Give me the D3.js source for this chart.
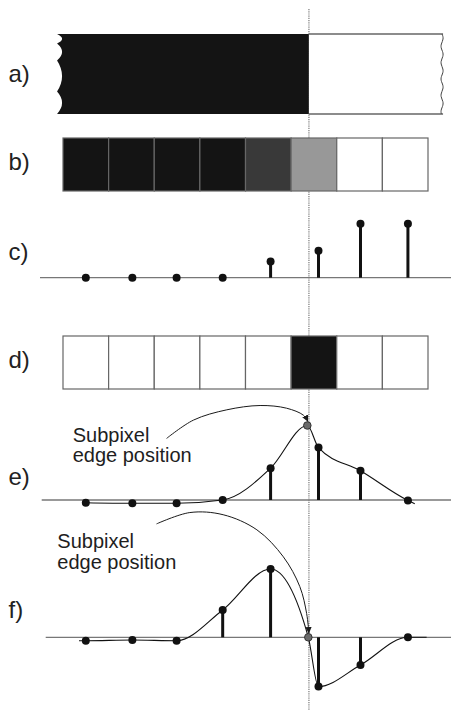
<!DOCTYPE html>
<html>
<head>
<meta charset="utf-8">
<script src="https://cdn.jsdelivr.net/npm/d3@7"></script>
<style>
    body { margin: 0; background: #fff; }
    svg { display: block; font-family: "Liberation Sans", Arial, Helvetica, sans-serif; }
</style>
</head>
<body>
<div id="chart"></div>
<script>
// scan line of 8 pixels, positions in pixel units
var pixelCount = 8;
var edgePos = 5.39;
var samplePos = [0.5, 1.52, 2.49, 3.5, 4.55, 5.6, 6.52, 7.56];

// a) continuous edge: [from, to, intensity]
var stepSegments = [[-0.13, 5.39, 0], [5.39, 8.33, 1]];
// b) + c) sampled intensities
var sampledValues = [0, 0, 0, 0, 0.3, 0.5, 1, 1];
// d) pixel classified as edge
var edgePixels = [0, 0, 0, 0, 0, 1, 0, 0];
// e) first derivative
var gradientValues = [-0.05, -0.06, -0.06, 0, 0.59, 0.97, 0.54, -0.01];
var gradientPeak = [5.355, 1.38];
var gradientTail = [[7.71, -0.07]];
// f) second derivative
var secondDerivValues = [-0.063, -0.05, -0.063, 0.506, 1.265, -0.913, -0.513, 0];
var zeroCrossing = [5.377, 0];
var secondDerivTails = [[0.35, -0.063], [7.97, 0]];

var panelLabels = ["a)", "b)", "c)", "d)", "e)", "f)"];
var noteLines = ["Subpixel", "edge position"];
// annotation arrows, in the same units as the plot they point into
var gradientArrow = [[2.27, 1.14], [2.86, 1.48], [3.59, 1.67], [4.32, 1.75], [4.9, 1.7], [5.27, 1.57], [5.37, 1.45]];
var zeroArrow = [[2.05, 2.1], [2.78, 2.31], [3.51, 2.27], [4.25, 1.99], [4.83, 1.49], [5.19, 0.94], [5.34, 0.44], [5.39, 0.07]];

var config = {
    width: 451,
    height: 710,
    xRange: [63, 428],
    unit: 54,
    labelX: 8.5,
    labelY: [82, 170, 260, 368, 485, 618],
    step: {top: 34, bottom: 114},
    cellsB: {top: 138, bottom: 191},
    stemsC: {base: 277.7, axis: [40, 451]},
    cellsD: {top: 336, bottom: 389},
    plotE: {base: 500, axis: [41.7, 451], note: [72.7, 441.7]},
    plotF: {base: 637.3, axis: [45.7, 451], note: [57.3, 548.3]}
};

var grayScale = d3.scaleLinear()
    .domain([0, 0.3, 0.5, 1])
    .range(["#141414", "#393939", "#989898", "#ffffff"]);

class EdgeFigure {

    constructor(container, config) {
        this.config = config;
        this.svg = d3.select(container).append("svg")
            .attr("width", config.width)
            .attr("height", config.height);
        this.x = d3.scaleLinear().domain([0, pixelCount]).range(config.xRange);
        this.initMarker();
    }

    yScale(panel) {
        return d3.scaleLinear().domain([0, 1]).range([panel.base, panel.base - this.config.unit]);
    }

    initMarker() {
        this.svg.append("defs").append("marker")
            .attr("id", "arrow")
            .attr("viewBox", "0 -5 10 10")
            .attr("refX", 10)
            .attr("refY", 0)
            .attr("markerWidth", 6.5)
            .attr("markerHeight", 6.5)
            .attr("markerUnits", "userSpaceOnUse")
            .attr("orient", "auto")
            .append("path")
            .attr("d", "M0,-5L10,0L0,5Z")
            .attr("fill", "#1a1a1a");
    }

    drawEdgeLine() {
        var ex = this.x(edgePos);
        this.svg.append("line")
            .attr("x1", ex).attr("x2", ex)
            .attr("y1", 9).attr("y2", this.config.height)
            .attr("stroke", "#8c8c8c")
            .attr("stroke-width", 1.4)
            .attr("stroke-dasharray", "1.2,1");
    }

    drawStep(panel) {
        var x = this.x, top = panel.top, bottom = panel.bottom, h = bottom - top;
        var g = this.svg.append("g").attr("class", "step");

        stepSegments.forEach(seg => {
            var x0 = x(seg[0]), x1 = x(seg[1]);
            if (seg[2] === 0) {
                // torn left side
                var cusps = [0, 0.12, 0.33, 0.72, 1];
                var p = d3.path();
                p.moveTo(x1, top);
                p.lineTo(x0, top);
                cusps.slice(1).forEach((c, i) => {
                    var y0 = top + cusps[i] * h, y1 = top + c * h;
                    p.quadraticCurveTo(x0 + 10, (y0 + y1) / 2, x0, y1);
                });
                p.lineTo(x1, bottom);
                p.closePath();
                g.append("path").attr("d", p.toString()).attr("fill", grayScale(seg[2]));
            } else {
                g.append("rect")
                    .attr("x", x0).attr("y", top)
                    .attr("width", x1 - x0).attr("height", h)
                    .attr("fill", grayScale(seg[2]));
                g.selectAll("line.edge-border").data([top, bottom]).join("line")
                    .attr("class", "edge-border")
                    .attr("x1", x0).attr("x2", x1)
                    .attr("y1", d => d).attr("y2", d => d)
                    .attr("stroke", "#666").attr("stroke-width", 1.3);
                var wave = d3.range(top, bottom + 0.1, 2.5).map(y => [x1 - 1 + 1.2 * Math.sin((y - top) / 2.6), y]);
                g.append("path")
                    .attr("d", d3.line().curve(d3.curveBasis)(wave))
                    .attr("fill", "none")
                    .attr("stroke", "#444")
                    .attr("stroke-width", 1);
            }
        });
    }

    drawCells(values, panel, color) {
        var x = this.x;
        this.svg.append("g").attr("class", "cells")
            .selectAll("rect").data(values).join("rect")
            .attr("x", (d, i) => x(i))
            .attr("y", panel.top)
            .attr("width", x(1) - x(0))
            .attr("height", panel.bottom - panel.top)
            .attr("fill", color)
            .attr("stroke", "#666")
            .attr("stroke-width", 1.2);
    }

    drawAxis(panel) {
        this.svg.append("line")
            .attr("x1", panel.axis[0]).attr("x2", panel.axis[1])
            .attr("y1", panel.base).attr("y2", panel.base)
            .attr("stroke", "#777")
            .attr("stroke-width", 1.3);
    }

    drawCurve(points, panel) {
        var x = this.x, y = this.yScale(panel);
        var line = d3.line()
            .x(d => x(d[0]))
            .y(d => y(d[1]))
            .curve(d3.curveMonotoneX);
        this.svg.append("path")
            .attr("d", line(points.slice().sort((a, b) => a[0] - b[0])))
            .attr("fill", "none")
            .attr("stroke", "#111")
            .attr("stroke-width", 1.1);
    }

    drawStems(values, panel) {
        var x = this.x, y = this.yScale(panel);
        var g = this.svg.append("g").attr("class", "stems");
        var data = values.map((v, i) => ({pos: samplePos[i], value: v}));

        g.selectAll("line").data(data.filter(d => Math.abs(d.value) > 0.1)).join("line")
            .attr("x1", d => x(d.pos)).attr("x2", d => x(d.pos))
            .attr("y1", y(0)).attr("y2", d => y(d.value))
            .attr("stroke", "#111")
            .attr("stroke-width", 3);

        g.selectAll("circle").data(data).join("circle")
            .attr("cx", d => x(d.pos))
            .attr("cy", d => y(d.value))
            .attr("r", 4)
            .attr("fill", "#111");
    }

    drawSubpixel(point, panel) {
        var y = this.yScale(panel);
        this.svg.append("circle")
            .attr("cx", this.x(point[0]))
            .attr("cy", y(point[1]))
            .attr("r", 3.8)
            .attr("fill", "#6a6a6a")
            .attr("stroke", "#2a2a2a")
            .attr("stroke-width", 0.9);
    }

    drawArrow(points, panel) {
        var x = this.x, y = this.yScale(panel);
        var line = d3.line()
            .x(d => x(d[0]))
            .y(d => y(d[1]))
            .curve(d3.curveCatmullRom.alpha(0.5));
        this.svg.append("path")
            .attr("d", line(points))
            .attr("fill", "none")
            .attr("stroke", "#1a1a1a")
            .attr("stroke-width", 1)
            .attr("marker-end", "url(#arrow)");
    }

    drawNote(panel) {
        var t = this.svg.append("text")
            .attr("x", panel.note[0])
            .attr("y", panel.note[1])
            .attr("font-size", 20)
            .attr("fill", "#1e1e1e");
        t.selectAll("tspan").data(noteLines).join("tspan")
            .attr("x", panel.note[0])
            .attr("dy", (d, i) => i ? 20.3 : 0)
            .text(d => d);
    }

    drawLabels() {
        this.svg.append("g").attr("class", "labels")
            .selectAll("text").data(panelLabels).join("text")
            .attr("x", this.config.labelX)
            .attr("y", (d, i) => this.config.labelY[i])
            .attr("font-size", 24)
            .attr("fill", "#222")
            .text(d => d);
    }
}

var fig = new EdgeFigure("#chart", config);
fig.drawEdgeLine();
fig.drawStep(config.step);
fig.drawCells(sampledValues, config.cellsB, d => grayScale(d));
fig.drawAxis(config.stemsC);
fig.drawStems(sampledValues, config.stemsC);
fig.drawCells(edgePixels, config.cellsD, d => d ? grayScale(0) : grayScale(1));

fig.drawAxis(config.plotE);
fig.drawCurve(gradientValues.map((v, i) => [samplePos[i], v]).concat([gradientPeak], gradientTail), config.plotE);
fig.drawStems(gradientValues, config.plotE);
fig.drawSubpixel(gradientPeak, config.plotE);
fig.drawArrow(gradientArrow, config.plotE);
fig.drawNote(config.plotE);

fig.drawAxis(config.plotF);
fig.drawCurve(secondDerivValues.map((v, i) => [samplePos[i], v]).concat([zeroCrossing], secondDerivTails), config.plotF);
fig.drawStems(secondDerivValues, config.plotF);
fig.drawSubpixel(zeroCrossing, config.plotF);
fig.drawArrow(zeroArrow, config.plotF);
fig.drawNote(config.plotF);

fig.drawLabels();
</script>
</body>
</html>
